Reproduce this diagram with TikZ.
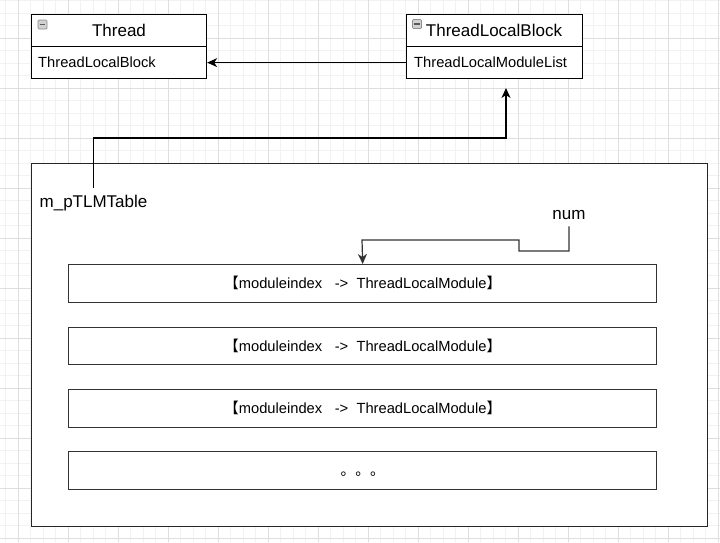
\documentclass[tikz,border=0pt]{standalone}
\usepackage{fontspec}
\setmainfont{Liberation Sans}
\newfontfamily\cjk{Noto Sans CJK SC}
\usetikzlibrary{arrows.meta}
\begin{document}
\begin{tikzpicture}[x=1pt,y=-1pt,
  minorgrid/.style={draw=black!5, line width=1pt},
  majorgrid/.style={draw=black!13, line width=1pt},
  umlpart/.style={draw=black, line width=1.2pt, fill=white, inner sep=0pt, anchor=north west},
  hdrfont/.style={font=\fontsize{17}{20}\selectfont},
  bodyfont/.style={font=\fontsize{14.7}{17}\selectfont},
  lbl/.style={font=\fontsize{17}{20}\selectfont, inner sep=6.6pt, anchor=base},
  icon/.style={draw=black!45, fill=black!18, minimum size=9pt, inner sep=0pt, line width=0.7pt, rounded corners=1pt,
    path picture={\draw[black!65, line width=1.1pt] ([xshift=1.8pt]path picture bounding box.west) -- ([xshift=-1.8pt]path picture bounding box.east);}},
  contbox/.style={draw=black!85, line width=1.3pt, fill=white, inner sep=0pt, anchor=north west},
  rowbox/.style={draw=black!80, line width=1.4pt, fill=white, inner sep=0pt, anchor=north west,
    minimum width=588pt, minimum height=37.5pt, text height=10.5pt, text depth=0pt,
    font=\fontsize{14.7}{17}\selectfont},
  conn/.style={draw=black, line width=1.2pt},
  arr/.style={conn, -{Stealth[length=10pt,width=9pt,inset=3pt]}}
]
\useasboundingbox (0,0) rectangle (720,542);
\fill[white] (0,0) rectangle (720,542);
% grid
\foreach \x in {5.5,18,...,718} \draw[minorgrid] (\x,0) -- (\x,542);
\foreach \y in {0.5,13,...,541} \draw[minorgrid] (0,\y) -- (720,\y);
\foreach \x in {18,68,...,718} \draw[majorgrid] (\x,0) -- (\x,542);
\foreach \y in {38,88,...,538} \draw[majorgrid] (0,\y) -- (720,\y);

% Thread class
\node[umlpart, minimum width=175pt, minimum height=32pt] (thH) at (31,14) {};
\node[umlpart, minimum width=175pt, minimum height=32pt] (thB) at (31,46) {};
\node[hdrfont, inner sep=0pt] (thHt) at (119,30) {Thread};
\node[bodyfont, inner sep=0pt, anchor=west] (thBt) at (38,62.5) {ThreadLocalBlock};
\node[icon] (ic1) at (42.5,24.5) {};

% ThreadLocalBlock class
\node[umlpart, minimum width=176pt, minimum height=32pt] (tlbH) at (406,14) {};
\node[umlpart, minimum width=176pt, minimum height=32pt] (tlbB) at (406,46) {};
\node[hdrfont, inner sep=0pt] (tlbHt) at (494,30.5) {ThreadLocalBlock};
\node[bodyfont, inner sep=0pt, anchor=west] (tlbBt) at (414,62.5) {ThreadLocalModuleList};
\node[icon] (ic2) at (417,24) {};

\draw[arr] (tlbB.west) -- (thB.east);

% container
\node[contbox, minimum width=676pt, minimum height=363pt] (cont) at (31,163) {};

\node[lbl] (m) at (93.5,207) {m\_pTLMTable};
\coordinate (tip) at (506,88);
\coordinate (bend) at (506,138);
\draw[arr] (m.north) |- (bend) -- (tip);

% rows
\node[rowbox] (r1) at (68,264) {{\cjk 【}moduleindex\hspace{12.6pt}->\hspace{8.3pt}ThreadLocalModule{\cjk 】}};
\node[rowbox] (r2) at (68,326.5) {{\cjk 【}moduleindex\hspace{12.6pt}->\hspace{8.3pt}ThreadLocalModule{\cjk 】}};
\node[rowbox] (r3) at (68,389) {{\cjk 【}moduleindex\hspace{12.6pt}->\hspace{8.3pt}ThreadLocalModule{\cjk 】}};
\node[rowbox] (r4) at (68,451) {{\cjk 。。。}};

% num
\node[lbl] (num) at (569,219.5) {num};
\coordinate (nb1) at (519,251);
\coordinate (nb2) at (362,240);
\draw[arr, draw=black!80] (num.south) |- (nb1) |- (nb2) -- (r1.north);
\end{tikzpicture}
\end{document}
